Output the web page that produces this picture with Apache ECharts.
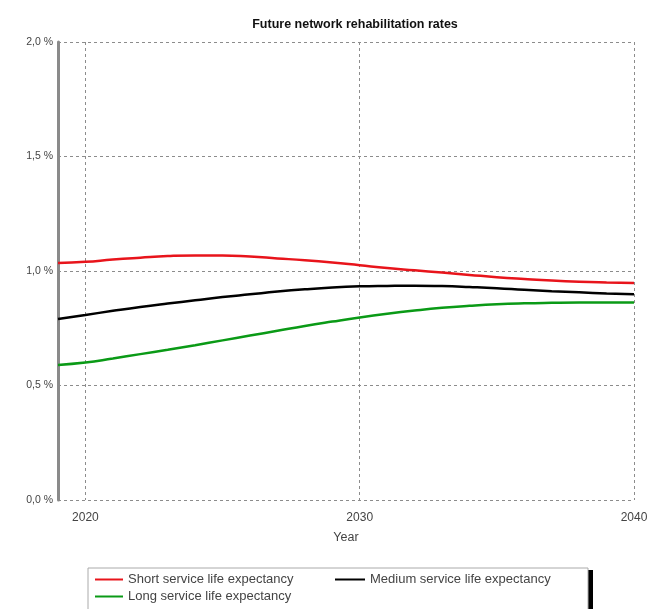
<!DOCTYPE html>
<html>
<head>
<meta charset="utf-8">
<script src="https://cdn.jsdelivr.net/npm/echarts@6/dist/echarts.min.js"></script>
<style>
html,body{margin:0;padding:0;background:#fff;}
#c{width:651px;height:609px;}
</style>
</head>
<body>
<div id="c"></div>
<script>
const years = [2019,2020,2021,2022,2023,2024,2025,2026,2027,2028,2029,2030,2031,2032,2033,2034,2035,2036,2037,2038,2039,2040];
const shortLife = [1.035,1.04,1.05,1.058,1.065,1.068,1.068,1.063,1.055,1.047,1.037,1.025,1.013,1.003,0.993,0.983,0.973,0.965,0.958,0.953,0.95,0.948];
const mediumLife = [0.79,0.808,0.826,0.843,0.858,0.872,0.886,0.898,0.91,0.92,0.928,0.933,0.935,0.936,0.934,0.93,0.925,0.918,0.912,0.907,0.902,0.898];
const longLife = [0.59,0.60,0.618,0.637,0.656,0.676,0.697,0.718,0.739,0.76,0.779,0.797,0.813,0.827,0.839,0.848,0.855,0.859,0.861,0.862,0.862,0.862];
const xTicks = [2020, 2030, 2040];
const seriesNames = ['Short service life expectancy','Medium service life expectancy','Long service life expectancy'];
const seriesColors = ['#e8141b','#000000','#0a9a16'];
const titleText = 'Future network rehabilitation rates';
const xName = 'Year';

const font = 'Liberation Sans, Arial, sans-serif';
const pair = (arr) => years.map((y,i)=>[y, arr[i]]);
const allData = [shortLife, mediumLife, longLife];

const chart = echarts.init(document.getElementById('c'), null, {renderer:'canvas'});
chart.setOption({
  animation:false,
  backgroundColor:'#fff',
  grid:{left:58,right:17,top:42,bottom:109,containLabel:false},
  xAxis:{
    type:'value', min:2019, max:2040,
    name:xName, nameLocation:'middle', nameGap:31,
    nameTextStyle:{color:'#444', fontFamily:font, fontSize:12.5},
    axisLine:{show:false},
    axisTick:{show:false, customValues:xTicks},
    axisLabel:{customValues:xTicks, color:'#444', fontFamily:font, fontSize:12, margin:12,
      formatter:(v)=>String(v)},
    splitLine:{show:true, lineStyle:{type:[3,3], color:'#8c8c8c', width:1}}
  },
  yAxis:{
    type:'value', min:0, max:2, interval:0.5,
    axisLine:{show:true, lineStyle:{color:'#8a8a8a', width:3}},
    axisTick:{show:false},
    axisLabel:{color:'#444', fontFamily:font, fontSize:10.5, margin:5,
      formatter:(v)=>v.toFixed(1).replace('.',',')+' %'},
    splitLine:{show:true, lineStyle:{type:[3,3], color:'#8c8c8c', width:1}}
  },
  legend:[
    {data:[seriesNames[0]], left:95, top:573, itemWidth:28},
    {data:[seriesNames[1]], left:335, top:573, itemWidth:30},
    {data:[seriesNames[2]], left:95, top:590, itemWidth:28}
  ].map(l=>Object.assign(l,{icon:'rect', itemHeight:2, itemGap:10, padding:0,
      textStyle:{color:'#444', fontFamily:font, fontSize:13}})),
  graphic:[
    {type:'rect', shape:{x:92,y:570,width:501,height:50}, style:{fill:'#000'}, z:-2},
    {type:'rect', shape:{x:88,y:568,width:500,height:50}, style:{fill:'#fff', stroke:'#aaa', lineWidth:1}, z:-1},
    {type:'text', x:355, y:25, style:{text:titleText, fontFamily:font, fontSize:12.5, fontWeight:'bold', fill:'#111', align:'center', verticalAlign:'middle'}}
  ],
  series: allData.map((d,i)=>({
    name:seriesNames[i], type:'line', data:pair(d), smooth:true, showSymbol:false,
    lineStyle:{color:seriesColors[i], width:2.5}, itemStyle:{color:seriesColors[i]}
  }))
});
</script>
</body>
</html>
